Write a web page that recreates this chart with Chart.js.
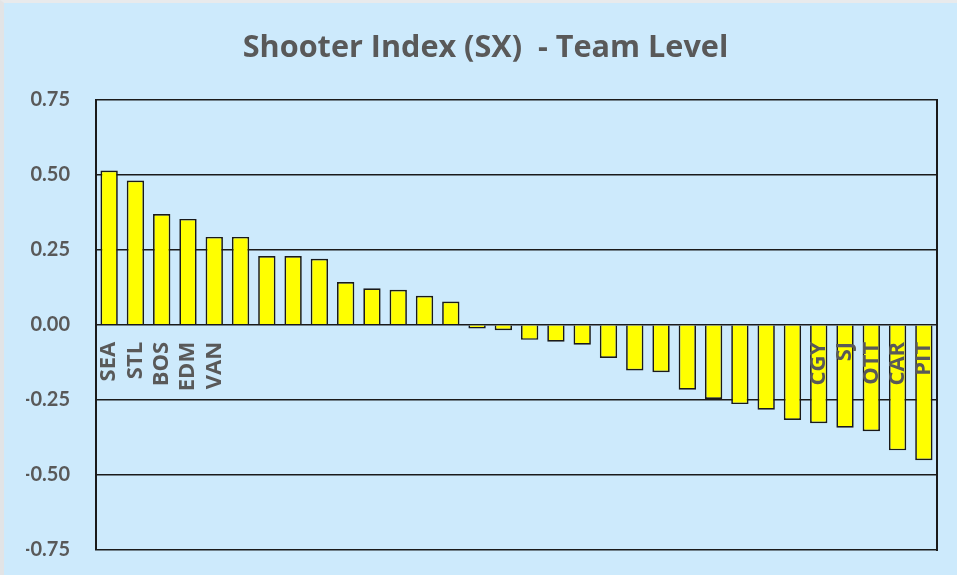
<!DOCTYPE html>
<html>
<head>
<meta charset="utf-8">
<script src="https://cdn.jsdelivr.net/npm/chart.js@4"></script>
<style>
  html, body { margin: 0; padding: 0; background: #cdeafc; }
  #wrap {
    width: 957px; height: 575px; box-sizing: border-box;
    border-left: 4px solid #e2e4e6; border-top: 3px solid #e8eaec;
    background: #cdeafc;
  }
  #chart { display: block; }
</style>
</head>
<body>
<div id="wrap"><canvas id="chart" width="953" height="572"></canvas></div>
<script>
// ======================================================================
// DATOS
// ======================================================================
const equipos = [
  "SEA", "STL", "BOS", "EDM", "VAN", "", "", "", "", "", "", "", "", "", "", "",
  "", "", "", "", "", "", "", "", "", "", "", "CGY", "SJ", "OTT", "CAR", "PIT"
];

const indiceSX = [
  0.514, 0.481, 0.369, 0.353, 0.293, 0.293, 0.229, 0.229, 0.220, 0.143, 0.122,
  0.117, 0.097, 0.078, -0.012, -0.018, -0.050, -0.056, -0.066, -0.110, -0.152,
  -0.158, -0.216, -0.247, -0.264, -0.283, -0.317, -0.328, -0.343, -0.354,
  -0.418, -0.451
];

const ticksY = [0.75, 0.50, 0.25, 0.00, -0.25, -0.50, -0.75];

const GRIS = "#595959";

// ======================================================================
// GRAFICO
// ======================================================================
const ctx = document.getElementById("chart").getContext("2d");

new Chart(ctx, {
  type: "bar",
  data: {
    labels: equipos,
    datasets: [{
      label: "SX",
      data: indiceSX,
      backgroundColor: "#ffff00",
      borderColor: "#1a1a1a",
      borderWidth: 1.7,
      barPercentage: 0.66,
      categoryPercentage: 1
    }]
  },
  options: {
    responsive: false,
    animation: false,
    layout: { padding: { left: 22, right: 12, top: 0, bottom: 25 } },
    plugins: {
      legend: { display: false },
      tooltip: { enabled: false },
      title: {
        display: true,
        text: "Shooter Index (SX)  - Team Level",
        color: GRIS,
        font: { family: "'Open Sans', sans-serif", size: 30.6, weight: "bold" },
        padding: { top: 27, bottom: 33 }
      }
    },
    scales: {
      x: {
        position: { y: 0 },
        afterFit: s => { s.height = 0; s.paddingLeft = 0; s.paddingRight = 0; },
        grid: { display: false, drawTicks: false },
        border: { display: false },
        ticks: {
          z: 1, // etiquetas por encima de las barras
          autoSkip: false,
          minRotation: 90,
          maxRotation: 90,
          padding: 17,
          color: GRIS,
          font: { family: "'Open Sans', sans-serif", size: 22, weight: "bold" }
        }
      },
      y: {
        min: -0.75,
        max: 0.75,
        afterFit: s => { s.width = 70; s.paddingTop = 0; s.paddingBottom = 0; },
        afterBuildTicks: s => { s.ticks = ticksY.map(v => ({ value: v })); },
        grid: { color: "#1a1a1a", lineWidth: 1.5, drawTicks: false },
        border: { color: "#1a1a1a", width: 2 },
        ticks: {
          padding: 26,
          color: GRIS,
          font: { family: "Lato, sans-serif", size: 20, weight: "bold" },
          callback: v => v.toFixed(2)
        }
      },
      y2: {
        position: "right",
        min: -0.75,
        max: 0.75,
        afterFit: s => { s.width = 8; },
        grid: { display: false, drawTicks: false },
        border: { color: "#1a1a1a", width: 2 },
        ticks: { display: false }
      }
    }
  }
});
</script>
</body>
</html>
